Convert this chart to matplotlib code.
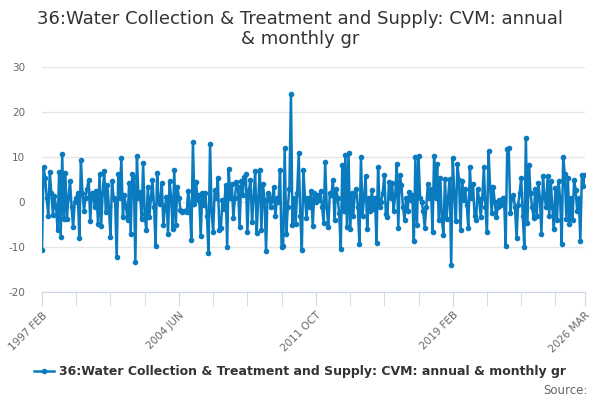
import numpy as np
import matplotlib
matplotlib.use("Agg")
import matplotlib.pyplot as plt

# monthly growth values, 1997 FEB .. 2026 MAR
values = [
    -10.7, 7.8, 5.4, 1.0, -3.0, 6.7, 2.0, -2.8, 1.3, -1.0,
    -6.2, 6.7, -7.7, 10.6, -3.7, 6.5, -3.7, 1.0, 4.7, -1.0,
    -5.6, 0.0, 1.0, 1.9, -8.0, 9.3, 2.0, -1.9, 1.0, 3.0,
    5.0, -4.3, 2.0, 1.1, -1.0, 2.5, -4.9, 6.3, -5.4, 2.0,
    6.9, -2.2, 3.7, -1.0, -7.7, 4.7, 1.0, 0.4, -12.3, 6.2,
    1.0, 9.7, -3.4, 1.5, -1.0, -4.1, 4.3, -7.1, 6.2, 5.6,
    -13.4, 10.3, 1.0, 2.2, -3.7, 8.6, -2.6, -6.3, 3.4, -3.4,
    1.0, 4.9, -1.0, -9.7, 6.5, 0.0, -0.4, 4.3, -5.2, -1.0,
    1.1, -7.2, 4.7, 1.0, -6.0, 7.1, -5.0, 3.4, 1.0, -1.7,
    -2.2, -2.0, -1.9, -2.3, 2.5, -1.0, -8.4, 13.4, -0.4, 4.5,
    0.4, 1.5, -7.6, 2.0, -0.7, 2.0, -3.0, -11.4, 13.0, -2.0,
    -6.7, 2.6, 1.0, 5.4, -6.3, -5.7, 0.5, -1.5, 3.7, -10.0,
    7.3, 1.0, 4.0, -3.5, 1.0, 4.5, 3.4, -5.6, 4.7, 1.5,
    5.6, 6.3, -6.7, 2.6, 4.9, -4.5, 1.0, 6.9, -6.9, 1.0,
    7.2, -6.3, 4.0, 0.5, -10.8, 2.0, 1.1, -1.0, 0.4, 3.4,
    -3.2, 1.0, 0.0, 7.2, -9.9, -9.8, 11.9, -7.2, -1.0, 3.0,
    24.0, -5.2, 1.0, -4.8, 2.0, 10.8, -3.0, -10.6, 7.1, 1.0,
    -3.5, 1.0, -1.0, 2.5, -5.4, 2.0, 0.0, 1.5, 0.5, 2.5,
    -1.0, -4.6, 9.0, -1.0, -5.6, 2.0, 1.5, 4.9, -4.0, 3.0,
    1.0, -2.5, -10.4, 8.2, -2.0, 10.4, -5.6, 10.8, -5.9, 2.0,
    -3.0, 1.5, 3.0, -1.0, -9.3, 10.0, -3.0, 1.0, 5.7, -6.0,
    1.0, -2.0, 2.6, -1.5, 1.0, -9.0, 7.7, -1.0, 0.0, 2.0,
    6.0, -2.6, -3.4, 4.5, 1.0, 4.3, -2.0, 1.5, 8.4, -5.7,
    6.0, 3.7, -1.0, -4.1, 1.0, -2.0, 2.2, 0.5, 1.5, -8.7,
    10.0, -5.2, 10.3, 1.0, 0.0, -2.0, -5.7, -1.0, 3.9, 1.0,
    3.0, -6.7, 10.2, 1.0, 8.4, -4.1, 5.4, -3.7, -7.3, 5.2,
    -3.7, 1.0, 5.2, -14.0, 9.7, 1.9, -4.3, 8.4, 5.0, -6.2,
    4.7, 0.4, 2.9, -0.7, -5.7, 7.7, 1.0, 4.1, -3.0, -4.0,
    2.8, 0.4, -3.4, 1.0, 7.7, -1.0, -6.7, 11.3, 3.4, -2.5,
    3.4, 0.0, -3.4, -1.1, 0.5, -0.7, 1.0, 1.0, -9.7, 11.8,
    11.9, -2.5, 1.0, 1.5, -1.0, -8.0, -0.7, 2.0, 5.4, -3.0,
    -10.0, 14.3, -4.7, 8.2, 1.9, -1.1, -3.5, 2.8, -3.0, 4.3,
    1.0, -7.1, 5.7, 1.0, -1.1, 5.7, -3.0, 4.7, -1.0, -6.0,
    3.2, -4.0, 4.7, 1.0, -9.3, 10.0, 6.2, -3.7, 5.4, -4.9,
    1.0, -4.1, 5.0, 2.6, -2.0, 1.0, -8.6, 6.0, 3.5, 5.9,
]
label_pos = [0, 88, 176, 264, 349]
label_txt = ["1997 FEB", "2004 JUN", "2011 OCT", "2019 FEB", "2026 MAR"]
y_ticks = [-20, -10, 0, 10, 20, 30]
series_name = "36:Water Collection & Treatment and Supply: CVM: annual & monthly gr"
title = "36:Water Collection & Treatment and Supply: CVM: annual\n& monthly gr"

blue = "#0b7bc0"
x = np.arange(len(values))

fig = plt.figure(figsize=(6, 4), dpi=100)
ax = fig.add_axes([42/600, 1-292/400, 543/600, 225/400])

line, = ax.plot(x, values, color=blue, lw=1.8, marker="o", ms=3,
                label=series_name)

ax.set_ylim(-20, 30)
ax.set_xlim(0, len(values) - 1)
ax.set_yticks(y_ticks)
ax.set_yticklabels([str(t) for t in y_ticks], color="#666666", fontsize=7.5)
ax.grid(axis="y", color="#e6e6e6", lw=1)
ax.set_axisbelow(True)
for s in ["top", "right", "left"]:
    ax.spines[s].set_visible(False)
ax.spines["bottom"].set_color("#ccd6eb")
ax.tick_params(axis="y", length=0, pad=12)

minor = list(range(0, len(values), 22)) + [len(values) - 1]
ax.set_xticks(minor, minor=True)
ax.set_xticks(label_pos)
ax.set_xticklabels(label_txt, rotation=45, ha="right", rotation_mode="anchor",
                   color="#666666", fontsize=7.5)
ax.tick_params(axis="x", which="both", length=10, color="#ccd6eb", pad=3)

fig.text(0.5, 1-29/400, title, ha="center", va="center", fontsize=13,
         color="#333333", linespacing=1.2)

fig.legend(handles=[line], loc="center", bbox_to_anchor=(0.5, 1-372/400),
           frameon=False, handlelength=1.6, handletextpad=0.4,
           prop={"size": 9, "weight": "bold"}, labelcolor="#333333")
fig.text(588/600, 1-390/400, "Source:", ha="right", va="center",
         fontsize=8.5, color="#666666")

fig.savefig("out.png", dpi=100)
